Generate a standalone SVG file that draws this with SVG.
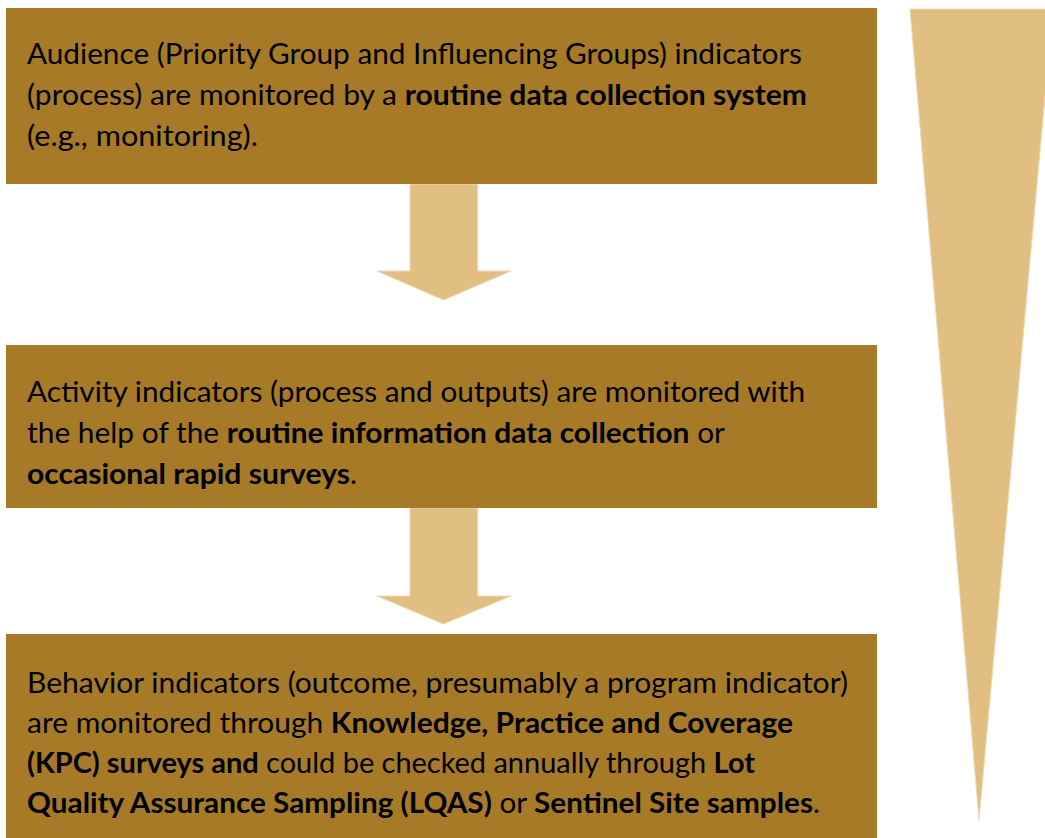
<svg xmlns="http://www.w3.org/2000/svg" width="1045" height="838" viewBox="0 0 1045 838">
<style>
.box{fill:#A67A27;}
.arr{fill:#E1BF82;stroke:#EFD9B0;stroke-width:1;}
.t{font-family:Lato,"Liberation Sans",sans-serif;font-size:28px;fill:#000;}
.b{font-weight:bold;}
</style>
<rect width="1045" height="838" fill="#fff"/>
<g id="funnel">
<polygon class="arr" points="910,9 1053,9 979,820"/>
</g>
<g id="connectors">
<polygon class="arr" points="410,184 477.7,184 477.7,271 511,271 443.5,300 377,271 410,271"/>
<polygon class="arr" points="410,508 477.7,508 477.7,596 511,596 443.5,624 377,596 410,596"/>
</g>
<g id="node1">
<rect class="box" x="6" y="8" width="871" height="176"/>
<text class="t" x="27" y="64" textLength="775" lengthAdjust="spacingAndGlyphs">Audience (Priority Group and Influencing Groups) indicators</text>
<text class="t" x="27" y="105" textLength="780" lengthAdjust="spacingAndGlyphs">(process) are monitored by a <tspan class="b">routine data collection system</tspan></text>
<text class="t" x="27" y="146" textLength="231" lengthAdjust="spacingAndGlyphs">(e.g., monitoring).</text>
</g>
<g id="node2">
<rect class="box" x="6" y="345" width="871" height="163"/>
<text class="t" x="27" y="402" textLength="778" lengthAdjust="spacingAndGlyphs">Activity indicators (process and outputs) are monitored with</text>
<text class="t" x="27" y="443" textLength="698" lengthAdjust="spacingAndGlyphs">the help of the <tspan class="b">routine information data collection</tspan> or</text>
<text class="t" x="27" y="484" textLength="330" lengthAdjust="spacingAndGlyphs"><tspan class="b">occasional rapid surveys</tspan>.</text>
</g>
<g id="node3">
<rect class="box" x="6" y="634" width="871" height="204"/>
<text class="t" x="27" y="693" textLength="821" lengthAdjust="spacingAndGlyphs">Behavior indicators (outcome, presumably a program indicator)</text>
<text class="t" x="27" y="733" textLength="766" lengthAdjust="spacingAndGlyphs">are monitored through <tspan class="b">Knowledge, Practice and Coverage</tspan></text>
<text class="t" x="27" y="773" textLength="728" lengthAdjust="spacingAndGlyphs"><tspan class="b">(KPC) surveys and</tspan> could be checked annually through <tspan class="b">Lot</tspan></text>
<text class="t" x="27" y="813" textLength="793" lengthAdjust="spacingAndGlyphs"><tspan class="b">Quality Assurance Sampling (LQAS)</tspan> or <tspan class="b">Sentinel Site samples</tspan>.</text>
</g>
</svg>
